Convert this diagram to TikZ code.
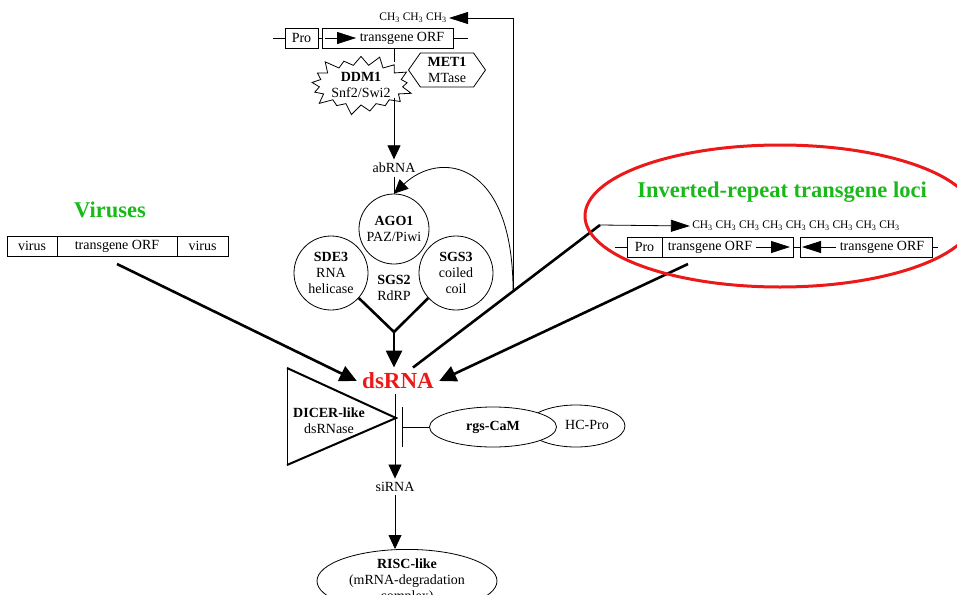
\documentclass[tikz,border=0pt]{standalone}
\usepackage{fontspec}
\setmainfont{Liberation Serif}
\usepackage{tikz}
\usetikzlibrary{arrows.meta,positioning,shapes.geometric,shapes.symbols,calc}
\definecolor{locigreen}{RGB}{25,185,25}
\definecolor{dsred}{RGB}{235,25,25}
\tikzset{
    gene-box/.style = {draw, rectangle, outer sep=0pt, inner sep=2pt, minimum height=20pt},
    protein-circle/.style = {draw, circle, fill=white, align=center, inner sep=0pt},
    protein-ellipse/.style = {draw, ellipse, align=center, inner sep=0pt},
    group-title/.style = {text=locigreen, font=\bfseries\fontsize{22.5}{24}\selectfont},
    methyl-row/.style = {font=\fontsize{11.5}{12}\selectfont, inner sep=2pt},
    heavy-line/.style = {line width=2.6pt},
    big-arrow/.style = {-{Triangle[length=14pt,width=13pt]}},
    heavy-arrow/.style = {-{Triangle[length=17pt,width=16pt]}},
    gene-arrow/.style = {-{Triangle[length=19pt,width=12pt]}},
}

\begin{document}
\begin{tikzpicture}[x=1pt, y=-1pt, line width=0.8pt, font=\fontsize{14}{16}\selectfont]
\useasboundingbox (0,0) rectangle (957,594);
\clip (0,0) rectangle (957,594);

\node[gene-box, minimum width=33pt] (pro-top) at (301.5,38) {Pro};
\node[gene-box, minimum width=131pt, right=4pt of pro-top] (orf-top) {};
\node (orf-top-label) at (402,38) {transgene ORF};
\draw (pro-top.west) -- ++(-12,0);
\draw (orf-top.east) -- ++(15,0);
\draw (pro-top) -- (orf-top);
\draw[gene-arrow] ([xshift=3pt]orf-top.west) -- (orf-top-label.west);
\node[methyl-row] (ch3-top) at (413,18) {CH\textsubscript{3} CH\textsubscript{3} CH\textsubscript{3}};

\node (abrna) at (394,168) {abRNA};
\draw (abrna |- orf-top.south) -- ++(0,14);
\node[draw, fill=white, starburst, starburst points=17, starburst point height=12pt,
      minimum width=100pt, minimum height=64pt, inner sep=0pt, align=center] (ddm1) at (361,85) {\textbf{DDM1}\\Snf2/Swi2};
\node[draw, fill=white, signal, signal to=west and east, signal pointer angle=110,
      minimum width=77pt, minimum height=34pt, inner sep=1pt, align=center] (met1) at (447,70) {\textbf{MET1}\\MTase};
\draw[big-arrow] ($(abrna |- ddm1.south)+(0,-8)$) -- (abrna.north);

\node[protein-circle, minimum size=74pt] (sde3) at (331,273) {\textbf{SDE3}\\RNA\\helicase};
\node[protein-circle, minimum size=74pt] (sgs3) at (456,273) {\textbf{SGS3}\\coiled\\coil};
\node[protein-circle, minimum size=70pt] (ago1) at (394,229) {\textbf{AGO1}\\PAZ/Piwi};
\node[align=center] (sgs2) at (394,288) {\textbf{SGS2}\\RdRP};
\draw (abrna.south) -- (ago1.north);

\node[text=dsred, font=\bfseries\fontsize{23}{25}\selectfont, inner sep=5pt] (dsrna) at (398,381) {dsRNA};
\coordinate (rdrp-join) at (394,332);
\draw[heavy-line] (sde3.-42) -- (rdrp-join) -- (sgs3.-138);
\draw[heavy-line, heavy-arrow] (rdrp-join) -- (rdrp-join |- dsrna.north);

\node[gene-box, minimum width=50pt] (virus-left) at (32,246) {virus};
\node[gene-box, minimum width=120pt, right=0pt of virus-left] (virus-orf) {transgene ORF};
\node[gene-box, minimum width=51pt, right=0pt of virus-orf] (virus-right) {virus};
\node[group-title] (viruses) at (110,210) {Viruses};
\draw[heavy-line, heavy-arrow] ([yshift=-8pt]virus-orf.south) -- (dsrna.west);

\node[group-title] (ir-title) at (782,192) {Inverted-repeat transgene loci};
\node[methyl-row] (ch3-ir) at (796,226) {CH\textsubscript{3} CH\textsubscript{3} CH\textsubscript{3} CH\textsubscript{3} CH\textsubscript{3} CH\textsubscript{3} CH\textsubscript{3} CH\textsubscript{3} CH\textsubscript{3}};
\node[gene-box, minimum width=35pt] (pro-ir) at (644.5,247) {Pro};
\node[gene-box, minimum width=131pt, right=0pt of pro-ir] (orf-ir-a) {};
\node[gene-box, minimum width=132pt, right=7pt of orf-ir-a] (orf-ir-b) {};
\node (orf-ir-a-label) at (710,247) {transgene ORF};
\node (orf-ir-b-label) at (882,247) {transgene ORF};
\draw[gene-arrow] (orf-ir-a-label.east) -- ([xshift=-3pt]orf-ir-a.east);
\draw[gene-arrow] (orf-ir-b-label.west) -- ([xshift=2pt]orf-ir-b.west);
\draw (pro-ir.west) -- ++(-12,0);
\draw (orf-ir-b.east) -- ++(6,0);
\draw (orf-ir-a) -- (orf-ir-b);

\coordinate (ir-start) at ([xshift=15pt]dsrna.north);
\coordinate (ir-corner) at (600,225);
\coordinate (branch) at ($(ir-start)!0.535!(ir-corner)$);
\draw[heavy-line] (ir-start) -- (ir-corner);
\draw[gene-arrow] (ir-corner) -- (ch3-ir.west);
\draw[gene-arrow] (branch) |- (ch3-top.east);
\draw[big-arrow] (branch) .. controls (513,160) and (440,150) .. (ago1.north);
\draw[heavy-line, heavy-arrow] ([shift={(26pt,-7pt)}]orf-ir-a.south west) -- (dsrna.east);
\draw[dsred, line width=3pt] (780,216) ellipse [x radius=195, y radius=71];

\draw[line width=2pt] (287,368) -- (396,418) -- (287,465);
\draw (287,368) -- (287,465);
\node[align=center] (dicer) at (329,421) {\textbf{DICER-like}\\dsRNase};

\node (sirna) at (395,487) {siRNA};
\draw[big-arrow] (sirna |- dsrna.south) -- (sirna.north);

\node[draw, ellipse, minimum width=98pt, minimum height=42pt] (hc-pro) at (576,426) {};
\node (hc-pro-label) at (587,425) {HC-Pro};
\node[draw, ellipse, fill=white, minimum width=127pt, minimum height=40pt] (rgs-cam) at (493,427) {\textbf{rgs-CaM}};
\draw[-{Bar[width=40pt]}] (rgs-cam.west) -- ++(-27,0);

\node[protein-ellipse, minimum width=180pt, minimum height=62pt] (risc) at (407,581) {\textbf{RISC-like}\\(mRNA-degradation\\complex)};
\draw[big-arrow] (sirna.south) -- (sirna.south |- risc.north);
\end{tikzpicture}
\end{document}
